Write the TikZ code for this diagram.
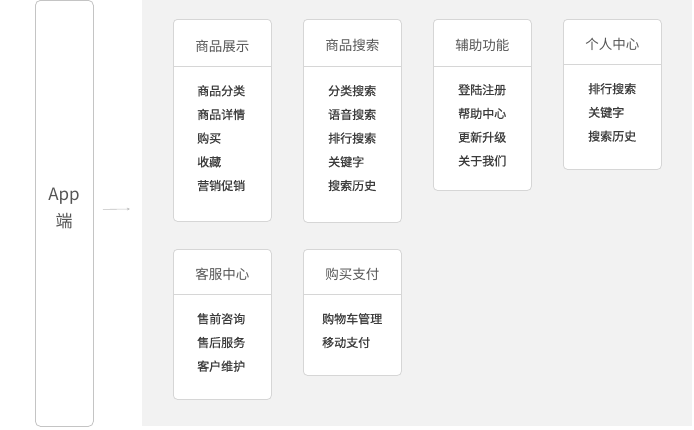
\documentclass[tikz,border=0pt]{standalone}
\usepackage{fontspec}
\setmainfont{Noto Sans CJK SC}
\newfontfamily\itemfont[FakeBold=0.7]{Noto Sans CJK SC}
\usetikzlibrary{arrows.meta, positioning, calc}
\definecolor{panelgray}{HTML}{F2F2F2}
\definecolor{cardline}{HTML}{D6D6D6}
\definecolor{appline}{HTML}{C4C4C4}
\definecolor{headtext}{HTML}{555555}
\definecolor{itemtext}{HTML}{3C3C3C}
\definecolor{flowgray}{HTML}{BDBDBD}
\tikzset{
  card/.style={draw=cardline, fill=white, rounded corners=4pt, line width=0.8pt, anchor=north west, minimum width=98pt, inner sep=0pt},
  cardhead/.style={font=\fontsize{13.5}{16}\selectfont, text=headtext, inner sep=0pt},
  carditems/.style={font=\itemfont\fontsize{12}{23.7}\selectfont, text=itemtext, align=left, anchor=north west, inner sep=0pt},
  headline/.style={draw=cardline, line width=0.8pt},
  flow/.style={draw=flowgray, line width=0.6pt, -{Stealth[length=3pt,width=2.6pt]}}
}

\begin{document}
\begin{tikzpicture}[x=1pt, y=-1pt]
\useasboundingbox (0,0) rectangle (694,429);
% Grey panel behind the cards
\fill[panelgray] (142,0) rectangle (692,426);
% App side
\node[draw=appline, fill=white, rounded corners=5pt, line width=0.8pt, anchor=north west, minimum width=58pt, minimum height=426pt, inner sep=0pt] (app) at (35,0) {};
\node[font=\fontsize{17}{27}\selectfont, text=headtext, align=center] (applabel) at (64,208) {App\\端};
\coordinate (panelin) at (130,209);
\draw[flow] ([xshift=9pt,yshift=4pt]app.east) -- (panelin);
% First row
\node[card, minimum height=202pt] (show) at (173,19) {};
\draw[headline] ($(show.north west)+(0,47)$) -- ($(show.north east)+(0,47)$);
\node[cardhead] (showtitle) at ($(show.north)+(0,27)$) {商品展示};
\node[carditems] (showitems) at (197,85) {商品分类\\商品详情\\购买\\收藏\\营销促销};
\node[card, minimum height=203pt] (search) at (303,19) {};
\draw[headline] ($(search.north west)+(0,47)$) -- ($(search.north east)+(0,47)$);
\node[cardhead] (searchtitle) at ($(search.north)+(0,26)$) {商品搜索};
\node[carditems] (searchitems) at (328,85) {分类搜索\\语音搜索\\排行搜索\\关键字\\搜索历史};
\node[card, minimum height=171pt] (aux) at (433,19) {};
\draw[headline] ($(aux.north west)+(0,47)$) -- ($(aux.north east)+(0,47)$);
\node[cardhead] (auxtitle) at ($(aux.north)+(0,26)$) {辅助功能};
\node[carditems] (auxitems) at (458,84) {登陆注册\\帮助中心\\更新升级\\关于我们};
\node[card, minimum height=150pt] (user) at (563,19) {};
\draw[headline] ($(user.north west)+(0,45)$) -- ($(user.north east)+(0,45)$);
\node[cardhead] (usertitle) at ($(user.north)+(0,25)$) {个人中心};
\node[carditems] (useritems) at (588,83) {排行搜索\\关键字\\搜索历史};
% Second row
\node[card, minimum height=150pt] (service) at (173,249) {};
\draw[headline] ($(service.north west)+(0,45)$) -- ($(service.north east)+(0,45)$);
\node[cardhead] (servicetitle) at ($(service.north)+(0,25)$) {客服中心};
\node[carditems] (serviceitems) at (197,313) {售前咨询\\售后服务\\客户维护};
\node[card, minimum height=126pt] (pay) at (303,249) {};
\draw[headline] ($(pay.north west)+(0,45)$) -- ($(pay.north east)+(0,45)$);
\node[cardhead] (paytitle) at ($(pay.north)+(0,25)$) {购买支付};
\node[carditems] (payitems) at (322,313) {购物车管理\\移动支付};
\end{tikzpicture}
\end{document}
